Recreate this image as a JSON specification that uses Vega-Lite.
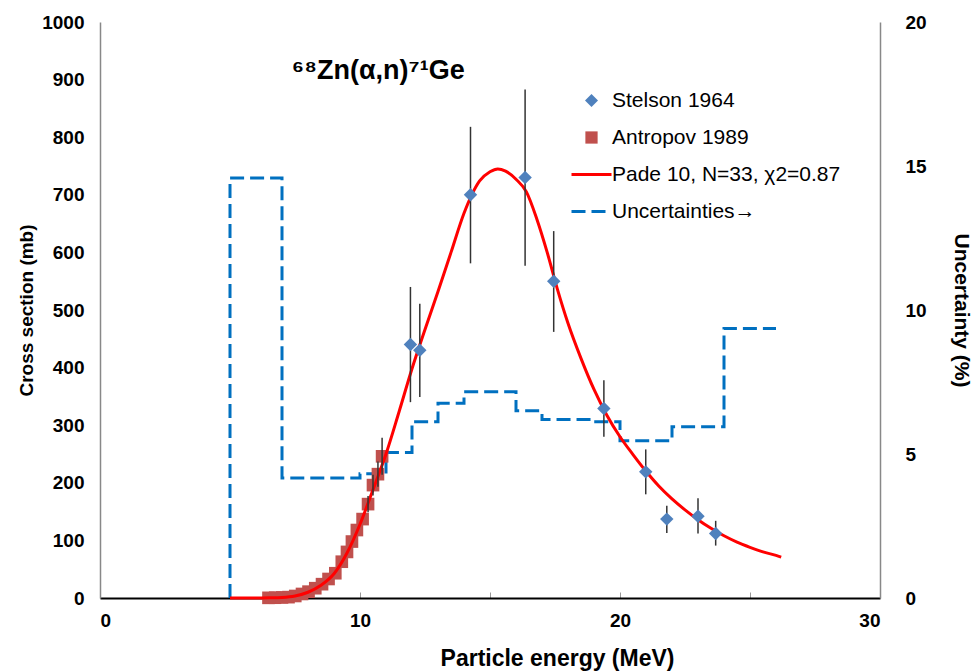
{
  "$schema": "https://vega.github.io/schema/vega-lite/v6.json",
  "width": 780,
  "height": 576,
  "autosize": {"type": "none"},
  "padding": {"left": 100, "top": 22, "right": 94, "bottom": 74},
  "background": "white",
  "config": {
    "view": {"stroke": null},
    "font": "Liberation Sans",
    "axis": {"grid": false, "labelFont": "Liberation Sans", "titleFont": "Liberation Sans"}
  },
  "datasets": {
    "pts": [
      {"series": "Antropov 1989", "E": 6.48, "sigma": 0.3},
      {"series": "Antropov 1989", "E": 6.74, "sigma": 0.5},
      {"series": "Antropov 1989", "E": 7.0, "sigma": 1},
      {"series": "Antropov 1989", "E": 7.25, "sigma": 1.5},
      {"series": "Antropov 1989", "E": 7.51, "sigma": 3.5},
      {"series": "Antropov 1989", "E": 7.77, "sigma": 7},
      {"series": "Antropov 1989", "E": 8.02, "sigma": 11},
      {"series": "Antropov 1989", "E": 8.28, "sigma": 17},
      {"series": "Antropov 1989", "E": 8.54, "sigma": 24},
      {"series": "Antropov 1989", "E": 8.79, "sigma": 33},
      {"series": "Antropov 1989", "E": 9.05, "sigma": 43},
      {"series": "Antropov 1989", "E": 9.3, "sigma": 63},
      {"series": "Antropov 1989", "E": 9.5, "sigma": 80},
      {"series": "Antropov 1989", "E": 9.69, "sigma": 98},
      {"series": "Antropov 1989", "E": 9.88, "sigma": 118},
      {"series": "Antropov 1989", "E": 10.1, "sigma": 137},
      {"series": "Antropov 1989", "E": 10.31, "sigma": 163, "lo": 149, "hi": 177},
      {"series": "Antropov 1989", "E": 10.5, "sigma": 196, "lo": 178, "hi": 214},
      {"series": "Antropov 1989", "E": 10.69, "sigma": 215, "lo": 193, "hi": 237},
      {"series": "Antropov 1989", "E": 10.85, "sigma": 246, "lo": 214, "hi": 278},
      {"series": "Stelson 1964", "E": 11.94, "sigma": 440, "lo": 340, "hi": 540},
      {"series": "Stelson 1964", "E": 12.3, "sigma": 430, "lo": 349, "hi": 511},
      {"series": "Stelson 1964", "E": 14.25, "sigma": 700, "lo": 581, "hi": 818},
      {"series": "Stelson 1964", "E": 16.35, "sigma": 730, "lo": 577, "hi": 883},
      {"series": "Stelson 1964", "E": 17.45, "sigma": 550, "lo": 462, "hi": 637},
      {"series": "Stelson 1964", "E": 19.38, "sigma": 329, "lo": 280, "hi": 378},
      {"series": "Stelson 1964", "E": 20.99, "sigma": 219, "lo": 180, "hi": 258},
      {"series": "Stelson 1964", "E": 21.8, "sigma": 137, "lo": 113, "hi": 160},
      {"series": "Stelson 1964", "E": 23.0, "sigma": 142, "lo": 112, "hi": 173},
      {"series": "Stelson 1964", "E": 23.68, "sigma": 112, "lo": 91, "hi": 134}
    ],
    "fit": [
      {"series": "Pade 10, N=33, χ2=0.87", "E": 5.0, "sigma": 0},
      {"series": "Pade 10, N=33, χ2=0.87", "E": 6.0, "sigma": 0},
      {"series": "Pade 10, N=33, χ2=0.87", "E": 6.5, "sigma": 0.3},
      {"series": "Pade 10, N=33, χ2=0.87", "E": 7.0, "sigma": 1},
      {"series": "Pade 10, N=33, χ2=0.87", "E": 7.5, "sigma": 3.5},
      {"series": "Pade 10, N=33, χ2=0.87", "E": 8.0, "sigma": 10},
      {"series": "Pade 10, N=33, χ2=0.87", "E": 8.5, "sigma": 22},
      {"series": "Pade 10, N=33, χ2=0.87", "E": 9.0, "sigma": 42},
      {"series": "Pade 10, N=33, χ2=0.87", "E": 9.5, "sigma": 78},
      {"series": "Pade 10, N=33, χ2=0.87", "E": 10.0, "sigma": 128},
      {"series": "Pade 10, N=33, χ2=0.87", "E": 10.5, "sigma": 188},
      {"series": "Pade 10, N=33, χ2=0.87", "E": 11.0, "sigma": 250},
      {"series": "Pade 10, N=33, χ2=0.87", "E": 11.5, "sigma": 323},
      {"series": "Pade 10, N=33, χ2=0.87", "E": 12.0, "sigma": 398},
      {"series": "Pade 10, N=33, χ2=0.87", "E": 12.5, "sigma": 466},
      {"series": "Pade 10, N=33, χ2=0.87", "E": 13.0, "sigma": 532},
      {"series": "Pade 10, N=33, χ2=0.87", "E": 13.5, "sigma": 600},
      {"series": "Pade 10, N=33, χ2=0.87", "E": 14.0, "sigma": 668},
      {"series": "Pade 10, N=33, χ2=0.87", "E": 14.3, "sigma": 700},
      {"series": "Pade 10, N=33, χ2=0.87", "E": 14.6, "sigma": 724},
      {"series": "Pade 10, N=33, χ2=0.87", "E": 15.0, "sigma": 740},
      {"series": "Pade 10, N=33, χ2=0.87", "E": 15.3, "sigma": 745},
      {"series": "Pade 10, N=33, χ2=0.87", "E": 15.6, "sigma": 741},
      {"series": "Pade 10, N=33, χ2=0.87", "E": 16.0, "sigma": 727},
      {"series": "Pade 10, N=33, χ2=0.87", "E": 16.4, "sigma": 705},
      {"series": "Pade 10, N=33, χ2=0.87", "E": 16.8, "sigma": 658},
      {"series": "Pade 10, N=33, χ2=0.87", "E": 17.2, "sigma": 600},
      {"series": "Pade 10, N=33, χ2=0.87", "E": 17.6, "sigma": 535},
      {"series": "Pade 10, N=33, χ2=0.87", "E": 18.0, "sigma": 477},
      {"series": "Pade 10, N=33, χ2=0.87", "E": 18.5, "sigma": 416},
      {"series": "Pade 10, N=33, χ2=0.87", "E": 19.0, "sigma": 362},
      {"series": "Pade 10, N=33, χ2=0.87", "E": 19.5, "sigma": 317},
      {"series": "Pade 10, N=33, χ2=0.87", "E": 20.0, "sigma": 280},
      {"series": "Pade 10, N=33, χ2=0.87", "E": 20.5, "sigma": 249},
      {"series": "Pade 10, N=33, χ2=0.87", "E": 21.0, "sigma": 220},
      {"series": "Pade 10, N=33, χ2=0.87", "E": 21.5, "sigma": 194},
      {"series": "Pade 10, N=33, χ2=0.87", "E": 22.0, "sigma": 172},
      {"series": "Pade 10, N=33, χ2=0.87", "E": 22.5, "sigma": 153},
      {"series": "Pade 10, N=33, χ2=0.87", "E": 23.0, "sigma": 136},
      {"series": "Pade 10, N=33, χ2=0.87", "E": 23.5, "sigma": 121},
      {"series": "Pade 10, N=33, χ2=0.87", "E": 24.0, "sigma": 108},
      {"series": "Pade 10, N=33, χ2=0.87", "E": 24.5, "sigma": 97},
      {"series": "Pade 10, N=33, χ2=0.87", "E": 25.0, "sigma": 88},
      {"series": "Pade 10, N=33, χ2=0.87", "E": 25.5, "sigma": 80},
      {"series": "Pade 10, N=33, χ2=0.87", "E": 26.0, "sigma": 74},
      {"series": "Pade 10, N=33, χ2=0.87", "E": 26.2, "sigma": 71}
    ],
    "unc": [
      {"series": "Uncertainties→", "i": 0, "E": 5, "unc": 0},
      {"series": "Uncertainties→", "i": 1, "E": 5, "unc": 14.58},
      {"series": "Uncertainties→", "i": 2, "E": 7, "unc": 4.17},
      {"series": "Uncertainties→", "i": 3, "E": 10, "unc": 4.31},
      {"series": "Uncertainties→", "i": 4, "E": 11, "unc": 5.05},
      {"series": "Uncertainties→", "i": 5, "E": 12, "unc": 6.12},
      {"series": "Uncertainties→", "i": 6, "E": 13, "unc": 6.76},
      {"series": "Uncertainties→", "i": 7, "E": 14, "unc": 7.16},
      {"series": "Uncertainties→", "i": 8, "E": 16, "unc": 6.5},
      {"series": "Uncertainties→", "i": 9, "E": 17, "unc": 6.2},
      {"series": "Uncertainties→", "i": 10, "E": 19, "unc": 6.12},
      {"series": "Uncertainties→", "i": 11, "E": 20, "unc": 5.46},
      {"series": "Uncertainties→", "i": 12, "E": 22, "unc": 5.95},
      {"series": "Uncertainties→", "i": 13, "E": 24, "unc": 9.36},
      {"series": "Uncertainties→", "i": 14, "E": 26, "unc": 9.36}
    ],
    "label": [
      {"t": "⁶⁸Zn(α,n)⁷¹Ge", "E": 10.7, "sigma": 915}
    ]
  },
  "encoding": {
    "x": {
      "field": "E",
      "type": "quantitative",
      "scale": {"domain": [0, 30], "nice": false},
      "axis": {
        "title": "Particle energy (MeV)",
        "values": [0, 5, 10, 15, 20, 25, 30],
        "labelExpr": "datum.value % 10 === 0 ? datum.label : ''",
        "labelFontSize": 19,
        "labelFontWeight": "bold",
        "labelColor": "#000",
        "labelPadding": 19,
        "tickSize": -6,
        "tickColor": "#999",
        "domainColor": "#000",
        "domainWidth": 2,
        "titleFontSize": 23,
        "titleFontWeight": "bold",
        "titleColor": "#000",
        "titlePadding": 17,
        "titleX": 457,
        "titleAlign": "center",
        "grid": false
      }
    }
  },
  "layer": [
    {
      "data": {"name": "unc"},
      "mark": {"type": "line", "interpolate": "step-after", "strokeWidth": 3, "strokeDash": [14, 6]},
      "encoding": {
        "y": {
          "field": "unc",
          "type": "quantitative",
          "scale": {"domain": [0, 20], "nice": false},
          "axis": {
            "orient": "right",
            "title": "Uncertainty (%)",
            "values": [0, 5, 10, 15, 20],
            "ticks": false,
            "labelPadding": 25,
            "labelFontSize": 19,
            "labelFontWeight": "bold",
            "labelColor": "#000",
            "domainColor": "#888",
            "domainWidth": 1.5,
            "titleFontSize": 21,
            "titleFontWeight": "bold",
            "titleColor": "#000",
            "titlePadding": 24,
            "grid": false
          }
        },
        "order": {"field": "i", "type": "quantitative"},
        "color": {
          "field": "series",
          "type": "nominal",
          "scale": {
            "domain": ["Stelson 1964", "Antropov 1989", "Pade 10, N=33, χ2=0.87", "Uncertainties→"],
            "range": ["#4F81BD", "#C0504D", "#FF0000", "#0070C0"]
          },
          "legend": {
            "title": null,
            "orient": "none",
            "legendX": 481,
            "legendY": 68,
            "symbolSize": 1600,
            "rowPadding": 15,
            "labelOffset": 10,
            "labelFontSize": 21,
            "labelFont": "Liberation Sans",
            "labelColor": "#000",
            "labelLimit": 400,
            "encode": {
              "symbols": {
                "update": {
                  "shape": {"signal": "datum.value === 'Stelson 1964' ? 'diamond' : (datum.value === 'Antropov 1989' ? 'square' : 'stroke')"},
                  "size": {"signal": "datum.value === 'Stelson 1964' ? 170 : (datum.value === 'Antropov 1989' ? 150 : 1600)"},
                  "fill": {"scale": "color", "field": "value"},
                  "stroke": {"scale": "color", "field": "value"},
                  "strokeWidth": {"signal": "(datum.value === 'Stelson 1964' || datum.value === 'Antropov 1989') ? 0 : 3"},
                  "strokeDash": {"signal": "datum.value === 'Uncertainties→' ? [14, 6] : [1, 0]"},
                  "opacity": {"value": 1},
                  "fillOpacity": {"value": 1},
                  "strokeOpacity": {"value": 1}
                }
              }
            }
          }
        }
      }
    },
    {
      "encoding": {
        "y": {
          "field": "sigma",
          "type": "quantitative",
          "scale": {"domain": [0, 1000], "nice": false},
          "axis": {
            "orient": "left",
            "title": "Cross section (mb)",
            "values": [0, 100, 200, 300, 400, 500, 600, 700, 800, 900, 1000],
            "format": "d",
            "ticks": false,
            "labelPadding": 16,
            "labelFontSize": 19,
            "labelFontWeight": "bold",
            "labelColor": "#000",
            "domainColor": "#888",
            "domainWidth": 1.5,
            "titleFontSize": 19,
            "titleFontWeight": "bold",
            "titleColor": "#000",
            "titlePadding": 5,
            "grid": false
          }
        }
      },
      "layer": [
        {
          "data": {"name": "pts"},
          "transform": [{"filter": "datum.series === 'Antropov 1989'"}],
          "mark": {"type": "point", "shape": "square", "filled": true, "size": 160, "opacity": 1},
          "encoding": {"color": {"field": "series", "type": "nominal"}}
        },
        {
          "data": {"name": "fit"},
          "mark": {"type": "line", "strokeWidth": 3, "interpolate": "monotone"},
          "encoding": {"color": {"field": "series", "type": "nominal"}}
        },
        {
          "data": {"name": "pts"},
          "transform": [{"filter": "datum.lo != null"}],
          "mark": {"type": "rule", "color": "#333333", "strokeWidth": 1.5},
          "encoding": {
            "y": {"field": "lo", "type": "quantitative"},
            "y2": {"field": "hi"}
          }
        },
        {
          "data": {"name": "pts"},
          "transform": [{"filter": "datum.series === 'Stelson 1964'"}],
          "mark": {"type": "point", "shape": "diamond", "filled": true, "size": 180, "opacity": 1},
          "encoding": {"color": {"field": "series", "type": "nominal"}}
        },
        {
          "data": {"name": "label"},
          "mark": {"type": "text", "fontSize": 27, "fontWeight": "bold", "font": "Liberation Sans", "color": "#000", "align": "center", "baseline": "middle"},
          "encoding": {"text": {"field": "t", "type": "nominal"}}
        }
      ]
    }
  ],
  "resolve": {"scale": {"y": "independent"}}
}
